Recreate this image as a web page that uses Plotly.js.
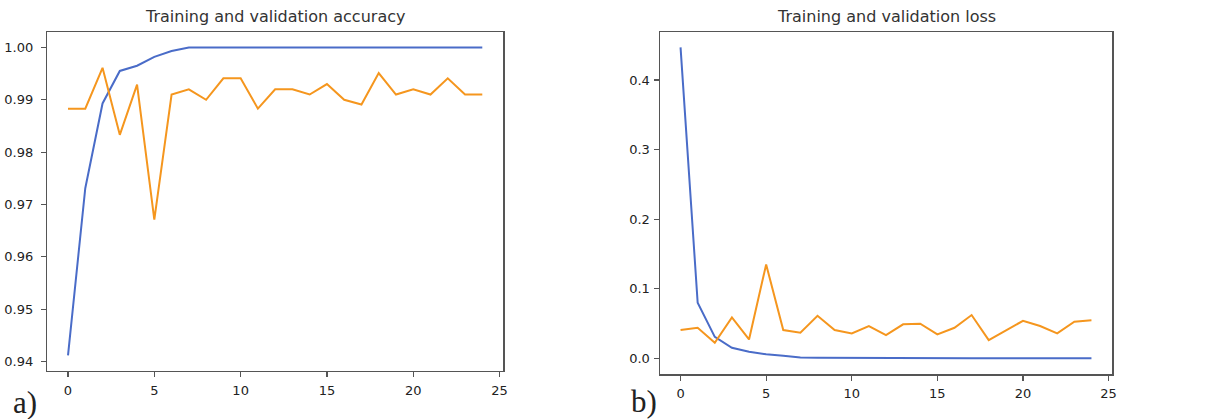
<!DOCTYPE html>
<html>
<head>
<meta charset="utf-8">
<script src="https://cdn.plot.ly/plotly-3.0.1.min.js"></script>
<style>html,body{margin:0;padding:0;background:#fff;}#chart{width:1222px;height:419px;}</style>
</head>
<body>
<div id="chart"></div>
<script>
const epochs = [0,1,2,3,4,5,6,7,8,9,10,11,12,13,14,15,16,17,18,19,20,21,22,23,24];
const trainAcc = [0.9412,0.9731,0.9893,0.9955,0.9965,0.9982,0.9993,1.0,1.0,1.0,1.0,1.0,1.0,1.0,1.0,1.0,1.0,1.0,1.0,1.0,1.0,1.0,1.0,1.0,1.0];
const valAcc = [0.9883,0.9883,0.9961,0.9833,0.9929,0.9671,0.9910,0.9920,0.9900,0.9941,0.9941,0.9883,0.9920,0.9920,0.9910,0.9930,0.9900,0.9891,0.9951,0.9910,0.9920,0.9910,0.9941,0.9910,0.9910];
const trainLoss = [0.447,0.080,0.031,0.0153,0.0095,0.006,0.0037,0.0014,0.0010,0.0008,0.0006,0.0005,0.0004,0.0004,0.0003,0.0003,0.0003,0.0002,0.0002,0.0002,0.0002,0.0002,0.0002,0.0002,0.0002];
const valLoss = [0.0407,0.044,0.0225,0.059,0.0273,0.135,0.0407,0.0368,0.0613,0.0407,0.036,0.0465,0.0335,0.049,0.0498,0.0345,0.044,0.0623,0.0263,0.0407,0.054,0.0465,0.036,0.0527,0.0547];
const titles = ['Training and validation accuracy','Training and validation loss'];
const panelLabels = ['a)','b)'];

const W = 1222, H = 419;
const blue = '#4a6cc8', orange = '#f5961e';
const axisCommon = {
  showline:true, mirror:true, linecolor:'#555', linewidth:1.5,
  ticks:'outside', ticklen:5, tickcolor:'#555', tickwidth:1.2,
  showgrid:false, zeroline:false,
  tickfont:{family:'DejaVu Sans', size:13, color:'#222'}
};
const traces = [
  {x:epochs, y:trainAcc, type:'scatter', mode:'lines', line:{color:blue,width:2}, xaxis:'x', yaxis:'y'},
  {x:epochs, y:valAcc, type:'scatter', mode:'lines', line:{color:orange,width:2}, xaxis:'x', yaxis:'y'},
  {x:epochs, y:trainLoss, type:'scatter', mode:'lines', line:{color:blue,width:2}, xaxis:'x2', yaxis:'y2'},
  {x:epochs, y:valLoss, type:'scatter', mode:'lines', line:{color:orange,width:2}, xaxis:'x2', yaxis:'y2'}
];
const layout = {
  width:W, height:H, margin:{l:0,r:0,t:0,b:0},
  paper_bgcolor:'#fff', plot_bgcolor:'#fff', showlegend:false,
  xaxis:Object.assign({}, axisCommon, {domain:[47.3/W, 503/W], range:[-1.2,25.2], tickvals:[0,5,10,15,20,25], ticklabelstandoff:2, anchor:'y'}),
  yaxis:Object.assign({}, axisCommon, {domain:[1-370.7/H, 1-32/H], range:[0.93826,1.00294], tickvals:[0.94,0.95,0.96,0.97,0.98,0.99,1.0], tickformat:'.2f', ticklabelstandoff:5, anchor:'x'}),
  xaxis2:Object.assign({}, axisCommon, {domain:[660/W, 1112/W], range:[-1.2,25.2], tickvals:[0,5,10,15,20,25], ticklabelstandoff:2, anchor:'y2'}),
  yaxis2:Object.assign({}, axisCommon, {domain:[1-374/H, 1-32/H], range:[-0.0224,0.469], tickvals:[0,0.1,0.2,0.3,0.4], tickformat:'.1f', ticklabelstandoff:1, anchor:'x2'}),
  annotations:[
    {text:titles[0], xref:'paper', yref:'paper', x:275/W, y:1-17/H, xanchor:'center', yanchor:'middle', showarrow:false, font:{family:'DejaVu Sans', size:16, color:'#333'}},
    {text:titles[1], xref:'paper', yref:'paper', x:886/W, y:1-17/H, xanchor:'center', yanchor:'middle', showarrow:false, font:{family:'DejaVu Sans', size:16, color:'#333'}},
    {text:panelLabels[0], xref:'paper', yref:'paper', x:25/W, y:1-402/H, xanchor:'center', yanchor:'middle', showarrow:false, font:{family:'Liberation Serif', size:31, color:'#222'}},
    {text:panelLabels[1], xref:'paper', yref:'paper', x:644/W, y:1-401/H, xanchor:'center', yanchor:'middle', showarrow:false, font:{family:'Liberation Serif', size:31, color:'#222'}}
  ]
};
Plotly.newPlot('chart', traces, layout, {staticPlot:true, displayModeBar:false});
</script>
</body>
</html>
